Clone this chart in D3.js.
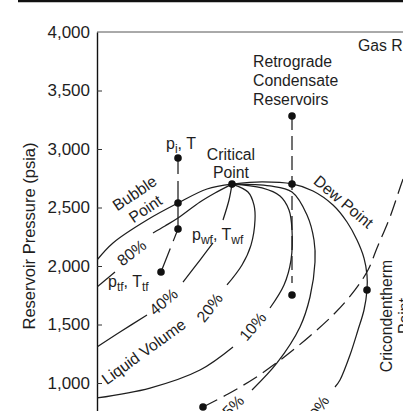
<!DOCTYPE html>
<html><head><meta charset="utf-8">
<script src="https://cdn.jsdelivr.net/npm/d3@7"></script>
<style>
body{margin:0;background:#fff;}
svg{display:block;font-family:"Liberation Sans",Arial,Helvetica,sans-serif;}
</style></head><body>
<svg id="c" width="403" height="411"></svg>
<script>
// ---------- data (temperature T in relative units, pressure P in psia) ----------
const pressureTicks = [1000, 1500, 2000, 2500, 3000, 3500, 4000];
const yAxisTitle = "Reservoir Pressure (psia)";

const bubbleT = [135, 110, 81, 50, 16, 0];
const bubbleP = [2700, 2658, 2538, 2393, 2197, 2051];
const line80T = [[135, 118, 103, 81, 68, 56], [18, 0]];
const line80P = [[2700, 2624, 2547, 2410, 2342, 2282], [1949, 1821]];
const line40T = [[135, 132, 126], [116, 103, 86], [50, 23, 0]];
const line40P = [[2700, 2564, 2393], [2197, 2051, 1863], [1581, 1436, 1308]];
const line20T = [135, 151, 157, 158, 154, 145, 130];
const line20P = [2700, 2632, 2521, 2393, 2179, 2009, 1838];
const line10T = [[135, 165, 183, 192, 195, 194, 187, 173], [136, 103, 53, 0]];
const line10P = [[2700, 2667, 2598, 2479, 2308, 2051, 1838, 1641], [1308, 1111, 957, 872]];
const line5T = [135, 173, 195, 210, 217, 218, 213, 203, 180, 155];
const line5P = [2700, 2684, 2632, 2436, 2222, 2034, 1735, 1479, 1171, 940];
const dewT = [135, 165, 195, 216, 236, 250, 260, 267, 270, 270, 267, 261, 253, 243, 238];
const dewP = [2700, 2718, 2701, 2641, 2521, 2376, 2222, 2068, 1923, 1795, 1624, 1453, 1239, 1026, 966];
const gasPathT = [106, 131, 158, 186, 213, 238, 258, 271, 280, 293, 305, 315];
const gasPathP = [795, 906, 1043, 1214, 1402, 1598, 1795, 1966, 2154, 2419, 2718, 2949];

const retroT = 195;
const retroP = [3282, 2701, 1752];        // initial, dew point, lower dot
const retroDashEndP = 1855;
const oilT = 81;
const oilP = [2923, 2538, 2316];          // p_i, bubble point, p_wf
const tfPoint = [64, 1949];               // p_tf, T_tf
const criticalPoint = [135, 2700];
const cricondenthermPoint = [270, 1795];
const gasStartPoint = [106, 795];

// ---------- layout ----------
const svg = d3.select("#c");
const W = 403, H = 411;
const x = d3.scaleLinear().domain([0, 306]).range([97, 403]);
const y = d3.scaleLinear().domain([0, 4000]).range([500, 32]);
const ink = "#1e1e1e";

svg.append("defs").append("clipPath").attr("id", "plot")
  .append("rect").attr("x", 97).attr("y", 32).attr("width", 306).attr("height", 379);

// top rule
svg.append("line").attr("x1", 18).attr("x2", W).attr("y1", 1).attr("y2", 1)
  .attr("stroke", "#111").attr("stroke-width", 2.5);
// plot top border
svg.append("line").attr("x1", 97).attr("x2", W).attr("y1", 32).attr("y2", 32)
  .attr("stroke", "#555").attr("stroke-width", 1);

// y axis
const yAxis = d3.axisLeft(y).tickValues(pressureTicks)
  .tickFormat(d3.format(",")).tickSizeInner(-5).tickSizeOuter(0).tickPadding(7);
const ga = svg.append("g").attr("transform", "translate(97,0)").call(yAxis);
ga.select(".domain").attr("stroke", "#111").attr("stroke-width", 1.4);
ga.selectAll(".tick line").attr("stroke", "#333");
ga.selectAll(".tick text").attr("font-size", 17).attr("fill", ink)
  .attr("font-family", '"Liberation Sans",Arial,sans-serif');
ga.selectAll(".tick").filter(d => d === 4000).select("line").remove();

svg.append("text").attr("transform", "translate(35,236) rotate(-90)")
  .attr("text-anchor", "middle").attr("font-size", 16.5).attr("fill", ink).text(yAxisTitle);

// ---------- curves ----------
const plot = svg.append("g").attr("clip-path", "url(#plot)");
const lineGen = d3.line().x(d => x(d[0])).y(d => y(d[1])).curve(d3.curveCatmullRom.alpha(0.5));
const zipPts = (T, P) => T.map((t, i) => [t, P[i]]);
function drawCurve(T, P, dash) {
  plot.append("path").attr("d", lineGen(zipPts(T, P)))
    .attr("fill", "none").attr("stroke", ink).attr("stroke-width", 1.25)
    .attr("stroke-dasharray", dash || null);
}
drawCurve(bubbleT, bubbleP);
line80T.forEach((t, i) => drawCurve(t, line80P[i]));
line40T.forEach((t, i) => drawCurve(t, line40P[i]));
drawCurve(line20T, line20P);
line10T.forEach((t, i) => drawCurve(t, line10P[i]));
drawCurve(line5T, line5P);
drawCurve(dewT, dewP);
drawCurve(gasPathT, gasPathP, "16,7");

// retrograde vertical path
plot.append("line").attr("x1", x(retroT)).attr("x2", x(retroT))
  .attr("y1", y(retroP[0])).attr("y2", y(retroDashEndP))
  .attr("stroke", ink).attr("stroke-width", 1.25).attr("stroke-dasharray", "14,6");
// oil path: p_i -> bubble -> p_wf -> p_tf
plot.append("line").attr("x1", x(oilT)).attr("x2", x(oilT))
  .attr("y1", y(oilP[0])).attr("y2", y(oilP[2]))
  .attr("stroke", ink).attr("stroke-width", 1.25).attr("stroke-dasharray", "16,7,80");
plot.append("line").attr("x1", x(oilT)).attr("x2", x(tfPoint[0]))
  .attr("y1", y(oilP[2])).attr("y2", y(tfPoint[1]))
  .attr("stroke", ink).attr("stroke-width", 1.25).attr("stroke-dasharray", "13,8,80");

// dots
const dots = [criticalPoint, cricondenthermPoint, gasStartPoint, tfPoint]
  .concat(retroP.map(p => [retroT, p]), oilP.map(p => [oilT, p]));
plot.selectAll("circle.dot").data(dots).join("circle").attr("class", "dot")
  .attr("cx", d => x(d[0])).attr("cy", d => y(d[1])).attr("r", 3.8).attr("fill", "#111");

// ---------- labels ----------
const fs = 15.8;
function txt(xp, yp, s, opts = {}) {
  const t = svg.append("text").attr("font-size", opts.size || fs).attr("fill", ink)
    .attr("text-anchor", opts.anchor || "start");
  if (opts.rot !== undefined) t.attr("transform", `translate(${xp},${yp}) rotate(${opts.rot})`);
  else t.attr("x", xp).attr("y", yp);
  t.text(s);
  return t;
}
function subLabel(xp, yp, main1, sub1, main2, sub2) {
  const t = svg.append("text").attr("x", xp).attr("y", yp).attr("font-size", 16).attr("fill", ink);
  t.append("tspan").text(main1);
  t.append("tspan").attr("font-size", 12).attr("dy", 4).text(sub1);
  t.append("tspan").attr("dy", -4).text(", " + main2);
  if (sub2) t.append("tspan").attr("font-size", 12).attr("dy", 4).text(sub2);
}

txt(358, 51, "Gas Reservoirs");
txt(253, 67, "Retrograde");
txt(253, 86, "Condensate");
txt(253, 105, "Reservoirs");
txt(231, 160, "Critical", {anchor: "middle"});
txt(231, 178, "Point", {anchor: "middle"});
subLabel(166, 149, "p", "i", "T", "");
subLabel(192, 240, "p", "wf", "T", "wf");
subLabel(108, 287, "p", "tf", "T", "tf");

const gb = svg.append("g").attr("transform", "translate(140,201) rotate(-34)");
gb.append("text").attr("text-anchor", "middle").attr("y", -4).attr("font-size", fs).attr("fill", ink).text("Bubble");
gb.append("text").attr("text-anchor", "middle").attr("y", 15).attr("font-size", fs).attr("fill", ink).text("Point");

txt(135, 257, "80%", {anchor: "middle", rot: -38});
txt(167, 306, "40%", {anchor: "middle", rot: -40});
txt(147, 356, "Liquid Volume", {anchor: "middle", rot: -36});
txt(214, 311, "20%", {anchor: "middle", rot: -52});
txt(257, 330, "10%", {anchor: "middle", rot: -50});
txt(237, 410, "5%", {anchor: "middle", rot: -45});
txt(324, 410, "0%", {anchor: "middle", rot: -58});
txt(340, 206, "Dew Point", {anchor: "middle", rot: 40});

const gc = svg.append("g").attr("transform", "translate(392,316) rotate(-90)");
gc.append("text").attr("text-anchor", "middle").attr("font-size", fs).attr("fill", ink).text("Cricondentherm");
gc.append("text").attr("text-anchor", "middle").attr("y", 18).attr("font-size", fs).attr("fill", ink).text("Point");
</script>
</body></html>
